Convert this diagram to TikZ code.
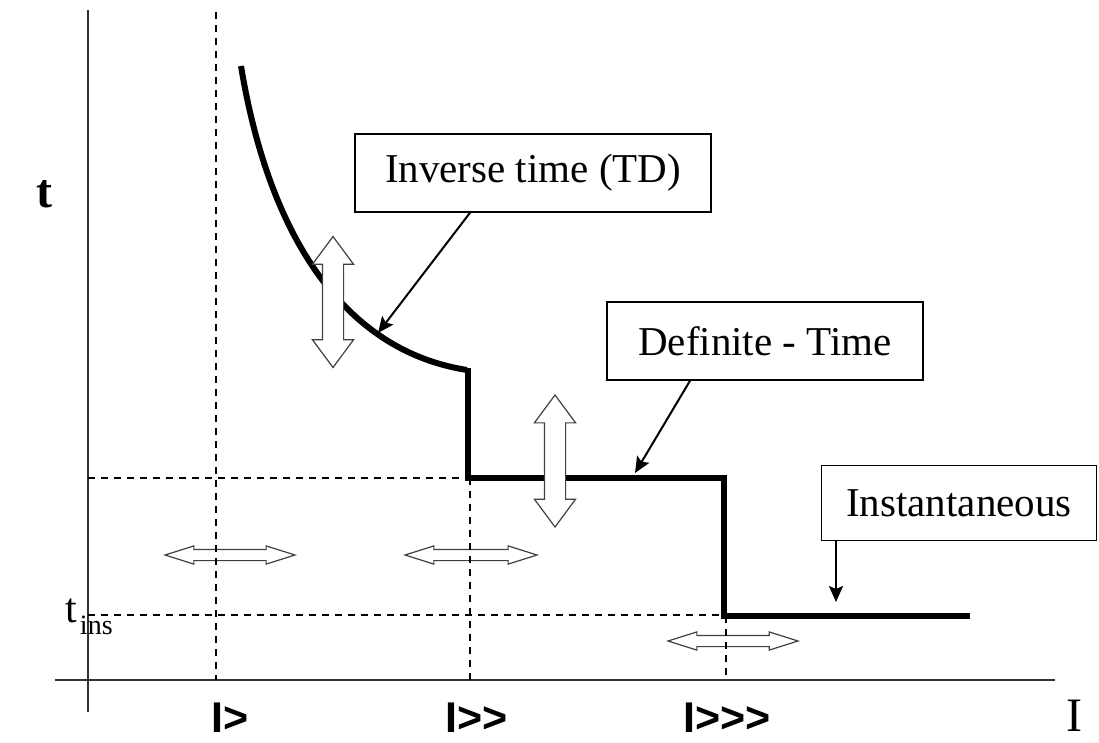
\documentclass[tikz,border=0pt]{standalone}
\usepackage{fontspec}
\setmainfont{Liberation Serif}
\newfontfamily\currentfont{Liberation Sans}
\usetikzlibrary{arrows.meta,shapes.arrows}

\begin{document}
\begin{tikzpicture}[
              x=1pt, y=-1pt,
              axis/.style={line width=2pt, black!80},
              guide/.style={line width=1.2pt, dash pattern=on 7pt off 6pt},
              trip/.style={line width=6pt},
              callout/.style={draw, line width=1.5pt, fill=white, minimum height=78pt, inner sep=0pt, font=\fontsize{41}{48}\selectfont},
              leader/.style={line width=2pt, -{Stealth[length=16pt,width=14pt,inset=3pt]}},
              vshift/.style={double arrow, draw=black!75, line width=1.2pt, fill=white, inner xsep=0pt, inner ysep=10pt, minimum width=40pt, double arrow head extend=10pt, double arrow tip angle=73, rotate=90},
              hshift/.style={double arrow, draw=black!75, line width=1.2pt, fill=white, inner xsep=0pt, inner ysep=5pt, minimum width=17pt, double arrow head extend=3.5pt, double arrow tip angle=35},
              current/.style={inner sep=0pt, font=\currentfont\bfseries\fontsize{43}{48}\selectfont}
            ]
            \useasboundingbox (0,0) rectangle (1099,742);

            % Axes
            \draw[axis] (88,10) -- (88,712);
            \draw[axis] (55,680) -- (1055,680);

            % Setting shifts (current)
            \node[hshift, minimum height=130pt] (shift1) at (230,555) {};
            \node[hshift, minimum height=132pt] (shift2) at (471,555) {};
            \node[hshift, minimum height=130pt] (shift3) at (733,641) {};

            % Guide lines
            \draw[guide] (216,12) -- (216,680);
            \draw[guide] (470,478) -- (470,680);
            \draw[guide] (726,616) -- (726,680);
            \draw[guide] (88,478) -- (470,478);
            \draw[guide] (88,615) -- (726,615);

            % Trip characteristic
            \draw[trip] (241,66) .. controls (268,230) and (340,350) .. (467,370);
            \draw[trip, line join=miter] (468,368) -- (468,478) -- (724,478) -- (724,616) -- (970,616);

            % Setting shifts (time)
            \node[vshift, minimum height=131pt] (tshift1) at (333,302) {};
            \node[vshift, minimum height=132pt] (tshift2) at (555,461) {};

            % Callouts
            \node[callout, minimum width=356pt] (invbox) at (533,173) {Inverse time (TD)};
            \node[callout, minimum width=316pt] (defbox) at (765,341) {Definite - Time};
            \node[callout, minimum width=275pt, minimum height=75pt] (instbox) at (959,503) {Instantaneous};

            \coordinate (invpt) at (378,333);
            \coordinate (defpt) at (635,473);
            \coordinate (instpt) at (836,602);

            \draw[leader] ([xshift=-63pt]invbox.south) -- (invpt);
            \draw[leader] ([xshift=-75pt]defbox.south) -- (defpt);
            \draw[leader] ([xshift=-123pt]instbox.south) -- (instpt);

            % Axis labels
            \node (tlabel) at (44,194) {\fontsize{48}{54}\selectfont\bfseries t};
            \node (tins) at (89,617) {\fontsize{42}{48}\selectfont t\kern3pt\raisebox{-0.28em}{\fontsize{28}{30}\selectfont ins}};
            \node (ilabel) at (1074,716) {\fontsize{48}{54}\selectfont I};

            \node[current] (iset1) at (230,718) {I>};
            \node[current] (iset2) at (477,718) {I>>};
            \node[current] (iset3) at (727,718) {I>>>};

            \end{tikzpicture}
\end{document}
